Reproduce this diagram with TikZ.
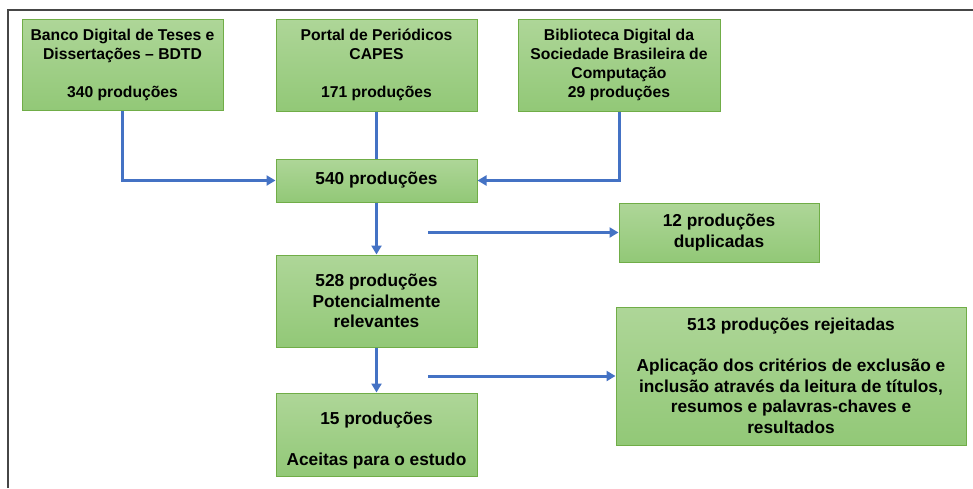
\documentclass[tikz,border=0pt]{standalone}
\usepackage{fontspec}
\setmainfont{Liberation Sans}
\usetikzlibrary{arrows.meta}
\definecolor{boxtop}{RGB}{174,214,152}
\definecolor{boxbot}{RGB}{146,200,119}
\definecolor{boxline}{RGB}{112,173,71}
\definecolor{arrblue}{RGB}{68,114,196}
\definecolor{framegray}{RGB}{70,70,70}
\tikzset{
  gbox/.style={draw=boxline, line width=1pt, top color=boxtop, bottom color=boxbot,
    inner sep=0pt, align=center, font=\bfseries\fontsize{17.3}{20.5}\selectfont},
  topbox/.style={gbox, font=\bfseries\fontsize{15.7}{19}\selectfont},
  gtext/.style={inner sep=0pt, align=center, font=\bfseries\fontsize{17.3}{20.5}\selectfont},
  arr/.style={draw=arrblue, line width=3pt, -{Triangle[length=9pt,width=10pt]}},
  plainline/.style={draw=arrblue, line width=3pt},
  frameline/.style={draw=framegray, line width=1.6pt}
}
\begin{document}
\begin{tikzpicture}[x=1pt,y=-1pt]
\useasboundingbox (0,0) rectangle (973,488);
\coordinate (ftl) at (8,10);
\coordinate (ftr) at (973,10);
\coordinate (fbl) at (8,488);
\draw[frameline] (fbl) -- (ftl) -- (ftr);

\node[topbox, minimum width=201pt, minimum height=91pt] (bdtd) at (122.5,65)
  {Banco Digital de Teses e\\Dissertações – BDTD\\[19pt]340 produções};
\node[topbox, minimum width=201pt, minimum height=92pt] (capes) at (376.5,65)
  {Portal de Periódicos\\CAPES\\[19pt]171 produções};
\node[topbox, minimum width=202pt, minimum height=92pt] (sbc) at (619,65)
  {Biblioteca Digital da\\Sociedade Brasileira de\\Computação\\29 produções};
\node[gbox, minimum width=201pt, minimum height=43pt] (n540) at (376.5,180.5)
  {540 produções};
\node[gbox, minimum width=200pt, minimum height=59pt] (dup) at (719,232.5)
  {12 produções\\duplicadas};
\node[gbox, minimum width=201pt, minimum height=92pt] (n528) at (376.5,301)
  {528 produções\\Potencialmente\\relevantes};
\node[gbox, minimum width=350pt, minimum height=138pt] (rej) at (791,376)
  {513 produções rejeitadas\\[20.5pt]Aplicação dos critérios de exclusão e\\inclusão através da leitura de títulos,\\resumos e palavras-chaves e\\resultados};
\node[gbox, minimum width=201pt, minimum height=83pt,
  label={[gtext, yshift=-6pt]center:15 produções\\[20.5pt]Aceitas para o estudo}] (n15) at (376.5,434.5) {};

\coordinate (c1) at (428,232.5);
\coordinate (c2) at (428,376);

\draw[arr] (bdtd.south) |- (n540.west);
\draw[plainline] (capes.south) -- (n540.north);
\draw[arr] (sbc.south) |- (n540.east);
\draw[arr] (n540.south) -- (n528.north);
\draw[arr] (c1) -- (dup.west);
\draw[arr] (n528.south) -- (n15.north);
\draw[arr] (c2) -- (rej.west);
\end{tikzpicture}
\end{document}
